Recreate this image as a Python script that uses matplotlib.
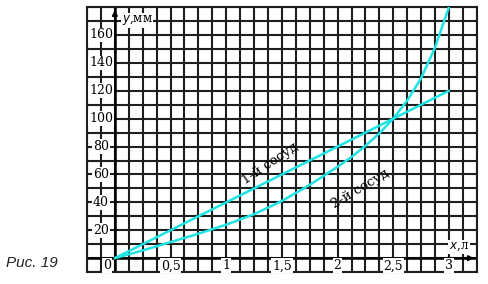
import matplotlib

matplotlib.use("Agg")

import matplotlib.pyplot as plt
import numpy as np

# volume x (litres) vs water level y (mm) for two vessels
x_vessel1 = [0, 0.5, 1.0, 1.5, 2.0, 2.5, 3.0]
y_vessel1 = [0, 20, 40, 60, 80, 100, 120]

x_vessel2 = [0, 0.25, 0.5, 0.75, 1.0, 1.25, 1.5, 1.75, 2.0, 2.125,
             2.25, 2.375, 2.5, 2.625, 2.75, 2.875, 3.0]
y_vessel2 = [0, 5.5, 11.5, 17.5, 24, 31.5, 41, 52.5, 65.5, 72.5,
             80.5, 89.5, 100, 113, 129, 151, 180]

x_ticks = [0.5, 1.0, 1.5, 2.0, 2.5, 3.0]
x_tick_labels = ["0,5", "1", "1,5", "2", "2,5", "3"]
y_ticks = [20, 40, 60, 80, 100, 120, 140, 160]

CYAN = "#1fe3e3"
GRID = "#1e1e1e"
SERIF = "DejaVu Serif"

fig = plt.figure(figsize=(4.89, 2.84), dpi=100)
ax = fig.add_axes([0.178, 0.042, 0.797, 0.933])
ax.set_xlim(-0.25, 3.25)
ax.set_ylim(-10, 180)
ax.set_xticks([])
ax.set_yticks([])
for s in ax.spines.values():
    s.set_color(GRID)
    s.set_linewidth(1.5)

# graph paper
for gx in np.arange(-0.25, 3.2501, 0.125):
    ax.axvline(gx, color=GRID, lw=1.5, zorder=1)
for gy in np.arange(-10, 180.1, 10):
    ax.axhline(gy, color=GRID, lw=1.5, zorder=1)

# axes with arrows
ax.axhline(0, color="black", lw=1.8, zorder=2)
ax.axvline(0, color="black", lw=1.8, zorder=2)
ax.annotate("", xy=(3.25, 0), xytext=(3.1, 0),
            arrowprops=dict(arrowstyle="-|>", color="black", lw=1.2,
                            mutation_scale=8), zorder=3)
ax.annotate("", xy=(0, 180), xytext=(0, 168),
            arrowprops=dict(arrowstyle="-|>", color="black", lw=1.2,
                            mutation_scale=8), zorder=3)

box = dict(facecolor="white", edgecolor="none", pad=0.6)

for xv, lab in zip(x_ticks, x_tick_labels):
    ax.text(xv, -5.5, lab, ha="center", va="center", fontsize=9,
            family=SERIF, bbox=box, zorder=4)
ax.text(-0.07, -5.5, "0", ha="center", va="center", fontsize=9,
        family=SERIF, bbox=box, zorder=4)
for yv in y_ticks:
    ax.text(-0.125, yv, str(yv), ha="center", va="center", fontsize=9,
            family=SERIF, bbox=box, zorder=4)

ax.text(0.06, 170.5, r"$y$,мм", ha="left", va="center", fontsize=8.5,
        family=SERIF, bbox=box, zorder=4)
ax.text(3.0, 8, r"$x$,л", ha="left", va="center", fontsize=8.5,
        family=SERIF, bbox=box, zorder=4)

ax.plot(x_vessel1, y_vessel1, color=CYAN, lw=1.8, zorder=5,
        solid_capstyle="round")
ax.plot(x_vessel2, y_vessel2, color=CYAN, lw=1.8, zorder=5,
        solid_capstyle="round", solid_joinstyle="round")

ax.text(1.39, 68, "1-й сосуд", rotation=34, ha="center", va="center",
        fontsize=9.5, family=SERIF, zorder=4)
ax.text(2.2, 50, "2-й сосуд", rotation=31, ha="center", va="center",
        fontsize=9.5, family=SERIF, zorder=4)

fig.text(0.012, 0.075, "Рис. 19", ha="left", va="center", fontsize=11,
         family="Liberation Sans", style="italic", color="#222222")

fig.savefig("out.png", dpi=100)
